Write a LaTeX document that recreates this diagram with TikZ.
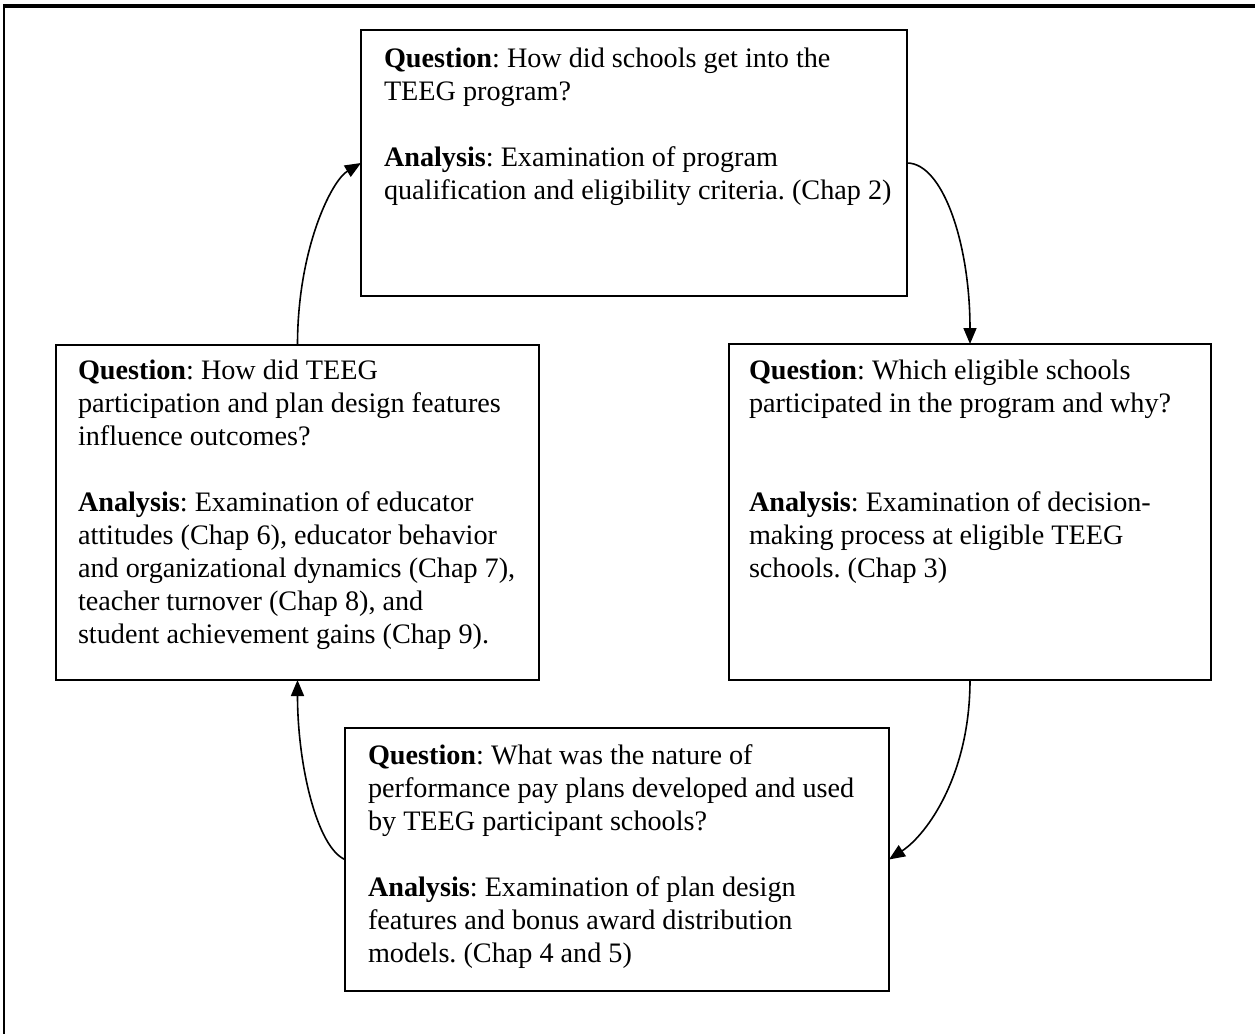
\documentclass[tikz,border=0pt]{standalone}
\usepackage{fontspec}
\setmainfont{Liberation Serif}
\usetikzlibrary{arrows.meta,calc}
\newcommand\st{\rule{0pt}{11pt}}
\frenchspacing
\begin{document}
\begin{tikzpicture}[x=0.5pt,y=-0.5pt,
  box/.style={draw,line width=1pt,rectangle,inner sep=0pt,outer sep=0pt,anchor=north west},
  txt/.style={inner sep=0pt,outer sep=0pt,anchor=north west,align=left,
    font=\fontsize{14.1}{16.5}\selectfont\frenchspacing},
  conn/.style={line width=0.8pt,-{Triangle[length=8pt,width=6.5pt]}}]
\useasboundingbox (0,0) rectangle (1255,1034);
% frame
\draw[line width=1.6pt] (3,6) -- (1255,6);
\draw[line width=0.8pt] (4,6) -- (4,1034);
% boxes
\node[box,minimum width=273pt,minimum height=133pt] (top) at (361,30) {};
\node[box,minimum width=241.5pt,minimum height=167.5pt] (left) at (56,345) {};
\node[box,minimum width=241pt,minimum height=168pt] (right) at (729,344) {};
\node[box,minimum width=272pt,minimum height=131.5pt] (bottom) at (345,728) {};
% texts
\node[txt] (ttop) at (384,45) {\st\textbf{Question}: How did schools get into the\\
TEEG program?\\[16.5pt]
\textbf{Analysis}: Examination of program\\
qualification and eligibility criteria. (Chap 2)};
\node[txt] (tleft) at (78,357) {\st\textbf{Question}: How did TEEG\\
participation and plan design features\\
influence outcomes?\\[16.5pt]
\textbf{Analysis}: Examination of educator\\
attitudes (Chap 6), educator behavior\\
and organizational dynamics (Chap 7),\\
teacher turnover (Chap 8), and\\
student achievement gains (Chap 9).};
\node[txt] (tright) at (749,357) {\st\textbf{Question}: Which eligible schools\\
participated in the program and why?\\[33pt]
\textbf{Analysis}: Examination of decision-\\
making process at eligible TEEG\\
schools. (Chap 3)};
\node[txt] (tbottom) at (368,742) {\st\textbf{Question}: What was the nature of\\
performance pay plans developed and used\\
by TEEG participant schools?\\[16.5pt]
\textbf{Analysis}: Examination of plan design\\
features and bonus award distribution\\
models. (Chap 4 and 5)};
% connectors
\draw[conn] (left.north) .. controls ($(left.north)+(0,-95)$) and ($(top.west)+(-30,18)$) .. (top.west);
\draw[conn] (top.east) .. controls ($(top.east)+(36,0)$) and ($(right.north)+(0,-100)$) .. (right.north);
\draw[conn] (right.south) .. controls ($(right.south)+(0,95)$) and ($(bottom.east)+(38,-25)$) .. (bottom.east);
\draw[conn] (bottom.west) .. controls ($(bottom.west)+(-28,-12)$) and ($(left.south)+(0,85)$) .. (left.south);
\end{tikzpicture}
\end{document}
